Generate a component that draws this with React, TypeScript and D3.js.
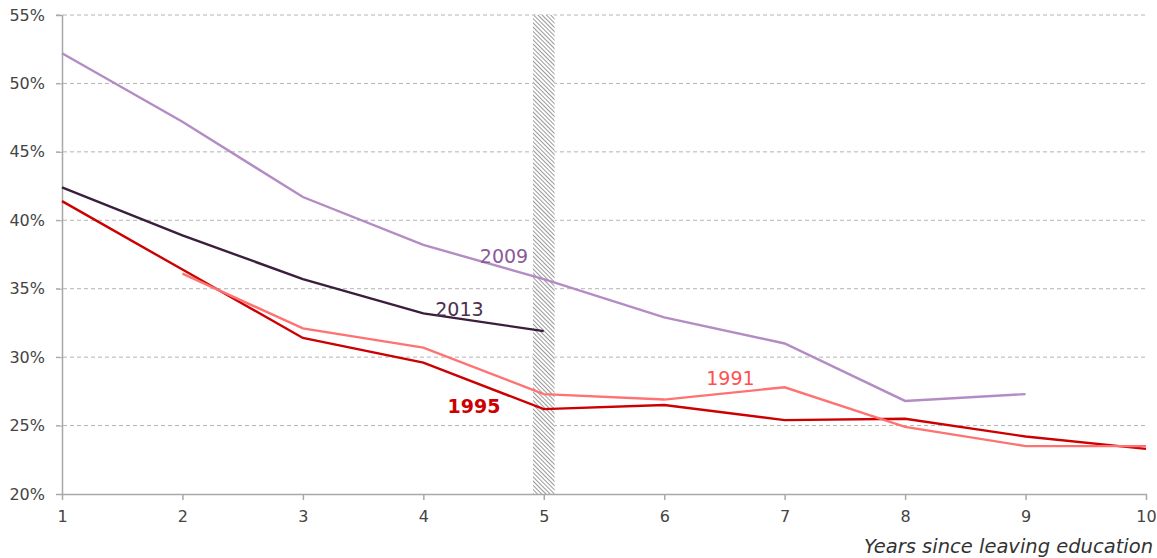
import * as d3 from "d3";
import { useEffect, useRef } from "react";

// ---- data ----
const years = [1, 2, 3, 4, 5, 6, 7, 8, 9, 10];
const s2009 = [52.2, 47.2, 41.7, 38.2, 35.7, 32.9, 31.0, 26.8, 27.3, null];
const s2013 = [42.4, 38.9, 35.7, 33.2, 31.9, null, null, null, null, null];
const s1995 = [41.4, 36.4, 31.4, 29.6, 26.2, 26.5, 25.4, 25.5, 24.2, 23.3];
const s1991 = [null, 36.1, 32.1, 30.7, 27.3, 26.9, 27.8, 24.9, 23.5, 23.5];
const yTicks = [20, 25, 30, 35, 40, 45, 50, 55];
const shadeRange = [4.91, 5.09];

const series = [
  { name: "2009", values: s2009, color: "#b38cc4", label: [4.67, 36.9], labelColor: "#8a5a9a", bold: false },
  { name: "2013", values: s2013, color: "#3a1e3c", label: [4.3, 33.0], labelColor: "#4a3050", bold: false },
  { name: "1995", values: s1995, color: "#cc0000", label: [4.42, 25.9], labelColor: "#cc0000", bold: true },
  { name: "1991", values: s1991, color: "#ff7272", label: [6.55, 28.0], labelColor: "#ff5050", bold: false },
];

export default function App() {
  const ref = useRef<SVGSVGElement>(null);

  useEffect(() => {
    const width = 1157;
    const height = 558;
    const margin = { top: 15, right: 11, bottom: 64, left: 62 };
    const innerW = width - margin.left - margin.right;
    const innerH = height - margin.top - margin.bottom;

    const svg = d3.select(ref.current);
    svg.selectAll("*").remove();

    // ---- hatch pattern ----
    const defs = svg.append("defs");
    const pat = defs
      .append("pattern")
      .attr("id", "hatch")
      .attr("patternUnits", "userSpaceOnUse")
      .attr("width", 3)
      .attr("height", 3)
      .attr("patternTransform", "rotate(-45)");
    pat.append("rect").attr("width", 3).attr("height", 3).attr("fill", "#fff");
    pat.append("line").attr("x1", 0).attr("y1", 0).attr("x2", 0).attr("y2", 3)
      .attr("stroke", "#555").attr("stroke-width", 1.2);

    const g = svg.append("g").attr("transform", `translate(${margin.left},${margin.top})`);

    const x = d3.scaleLinear().domain([1, 10]).range([0, innerW]);
    const y = d3.scaleLinear().domain([20, 55]).range([innerH, 0]);

    const font = "'DejaVu Sans', sans-serif";

    // ---- gridlines ----
    g.append("g")
      .selectAll("line")
      .data(yTicks.filter((d) => d > 20))
      .join("line")
      .attr("x1", -6)
      .attr("x2", innerW)
      .attr("y1", (d) => y(d))
      .attr("y2", (d) => y(d))
      .attr("stroke", "#b4b4b4")
      .attr("stroke-dasharray", "4,3")
      .attr("stroke-width", 1);

    // ---- shaded band ----
    g.append("rect")
      .attr("x", x(shadeRange[0]))
      .attr("y", 0)
      .attr("width", x(shadeRange[1]) - x(shadeRange[0]))
      .attr("height", innerH)
      .attr("fill", "url(#hatch)");

    // ---- y axis ----
    const yAxis = g.append("g").call(
      d3.axisLeft(y).tickValues(yTicks).tickSize(6).tickFormat((d) => `${d}%`)
    );
    yAxis.select(".domain").attr("stroke", "#a8a8a8").attr("stroke-width", 1.5);
    yAxis.selectAll(".tick line").attr("stroke", "#a8a8a8");
    yAxis.selectAll("text").attr("font-family", font).attr("font-size", 16)
      .attr("fill", "#444").attr("x", -17);

    // ---- x axis ----
    const xAxis = g.append("g").attr("transform", `translate(0,${innerH})`).call(
      d3.axisBottom(x).tickValues(years).tickSize(6).tickSizeOuter(0).tickFormat((d) => `${d}`)
    );
    xAxis.select(".domain").attr("stroke", "#a8a8a8").attr("stroke-width", 1.5);
    xAxis.selectAll(".tick line").attr("stroke", "#a8a8a8").attr("stroke-width", 1.5);
    xAxis.selectAll("text").attr("font-family", font).attr("font-size", 16)
      .attr("fill", "#444").attr("y", 17);

    // ---- lines ----
    const line = d3
      .line<number | null>()
      .defined((d) => d != null)
      .x((_, i) => x(years[i]))
      .y((d) => y(d as number));

    series.forEach((s) => {
      g.append("path")
        .datum(s.values)
        .attr("d", line)
        .attr("fill", "none")
        .attr("stroke", s.color)
        .attr("stroke-width", 2.4);
    });

    // ---- series labels ----
    series.forEach((s) => {
      g.append("text")
        .attr("x", x(s.label[0]))
        .attr("y", y(s.label[1]))
        .attr("text-anchor", "middle")
        .attr("font-family", font)
        .attr("font-size", 19)
        .attr("font-weight", s.bold ? 700 : 400)
        .attr("fill", s.labelColor)
        .text(s.name);
    });

    // ---- x title ----
    svg.append("text")
      .attr("x", width - 4)
      .attr("y", height - 5)
      .attr("text-anchor", "end")
      .attr("font-family", font)
      .attr("font-style", "italic")
      .attr("font-size", 19.5)
      .attr("fill", "#333")
      .text("Years since leaving education");
  }, []);

  return (
    <svg
      ref={ref}
      width={1157}
      height={558}
      style={{ position: "absolute", left: 0, top: 0 }}
    />
  );
}
